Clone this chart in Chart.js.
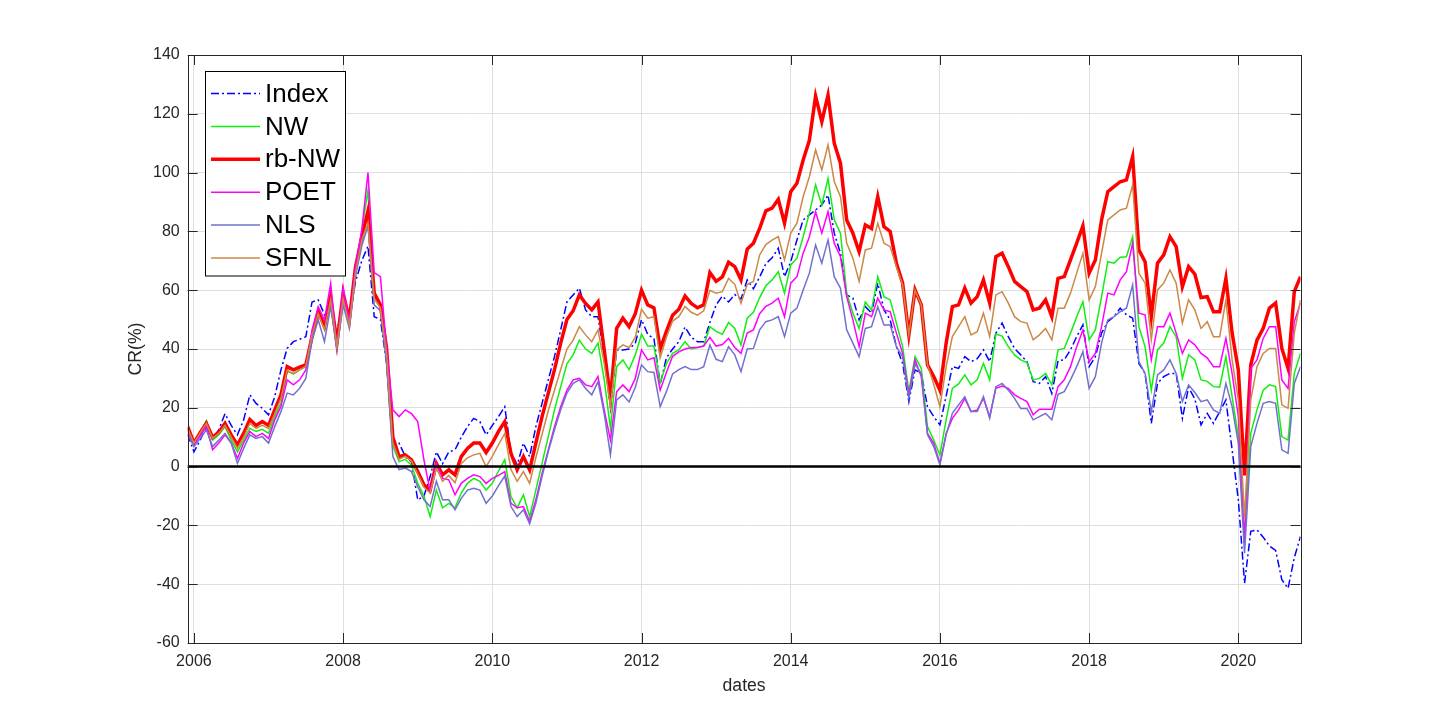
<!DOCTYPE html>
<html>
<head>
<meta charset="utf-8">
<title>CR(%)</title>
<script src="https://cdn.jsdelivr.net/npm/chart.js@4.4.1/dist/chart.umd.min.js"></script>
<style>
  html, body { margin: 0; padding: 0; background: #fff; }
  #wrap { width: 1438px; height: 723px; }
</style>
</head>
<body>
<div id="wrap"><canvas id="cr" width="1438" height="723"></canvas></div>
<script>
// monthly observations, Dec 2005 .. Nov 2020
const startYear = 2005 + 11 / 12;

const indexVals = [
  11, 5, 9, 13.6, 9.6, 12.5, 18, 14, 10.8, 15.9, 24.4, 21.5, 19.8, 17.6, 23.8, 32.9, 40.2, 42.5, 43.3, 44.2, 56, 56.7, 51.6, 54.4,
  45, 58, 50, 63, 70, 75, 51, 50, 35, 9, 8, 3.4, 1.7, -11.3, -10, -3.4, 5, 1, 5, 5.7, 10, 13.6, 16.4, 15.3,
  10.8, 14, 17, 20.4, 5, 0.6, 8, 3.4, 13.6, 21.5, 29.5, 37.4, 46.5, 56, 58.4, 60.7, 53.3, 51, 51, 37.4, 20, 39.7, 39.7,
  40, 42, 50, 45, 43.5, 28, 37, 40, 42.5, 47.5, 44, 42.5, 42.5, 49, 55, 58, 56, 58.5, 57, 63.5, 60.5, 64.5, 69, 71,
  74.3, 64.6, 69.7, 77.1, 83.9, 85.6, 87.3, 89, 92.4, 79.4, 72.6, 58.4, 57.3, 49.9, 54.4, 52.2, 62.4, 53.3, 49.9, 40.8, 35.1, 22.1, 32.9,
  31.7, 20.4, 17, 14.2, 24, 34, 33.4, 37.4, 35.7, 36.7, 39.7, 35.7, 45.4, 48.8, 44.2, 40.2, 38, 35.7, 28.9, 28.3, 30.6, 24.9, 36,
  36.3, 39.7, 44.2, 48.2, 34, 37.4, 45.4, 49.3, 51, 53.9, 51.6, 50.5, 35.1, 31.7, 14.7, 28.3, 30.6, 31.7, 31.7, 16.4, 27, 23, 14.2,
  18.1, 14.7, 18.7, 22.7, 5.7, -11.3, -39.7, -22, -21.5, -24, -27, -28.5, -38.5, -41.4, -31, -23.8
];

const nwVals = [
  13, 8, 11.5, 15.6, 9, 10.8, 13.6, 9, 5, 9, 13, 12, 12.7, 11.3, 17, 21.5, 32.3, 31.7, 32.9, 34, 44.8, 53.3, 48.8, 59,
  42, 59, 50, 68, 80, 94, 58, 55, 37, 7, 1.7, 2.5, 0.5, -5.7, -10, -17, -8, -14, -12.5, -14, -9, -5.7, -4, -5,
  -8, -5.7, -1.5, 2.3, -10.2, -14, -9.6, -17, -8, 1.1, 10.2, 19.3, 27.2, 35, 38, 43, 40, 38.5, 42, 29.5, 13, 34, 36.3,
  33, 38, 45, 41, 41, 28.5, 35, 38.5, 39.7, 42.5, 40, 40.5, 41, 47.6, 46, 45, 49, 47, 41.4, 50.5, 52.5, 57.5, 61.5, 63.5,
  66.3, 59, 68.6, 70.9, 78.2, 86.2, 95.8, 89, 98, 83.9, 79.4, 59, 52.2, 47, 56, 53.3, 64.6, 57.8, 56.7, 48.8, 40.8, 25.5, 37.4,
  33.4, 13.6, 9, 4, 15.9, 26.6, 28.1, 31.2, 27.8, 29.5, 35.1, 29.5, 45.1, 44.4, 40.8, 38, 36.3, 35.4, 29.5, 30, 31.7, 27.8, 39.7,
  40.2, 45.4, 51, 56.1, 43.1, 46.5, 57.8, 69.7, 69.2, 71.2, 71.4, 78.2, 47.6, 40.8, 26, 39.7, 42, 47.6, 44.2, 30, 38, 36.3, 29.5,
  29, 27.2, 27, 37.4, 23.8, 10.2, -24.4, 11.3, 19.3, 26, 27.8, 27.2, 10.2, 9, 31.7, 38.5
];

const rbNwVals = [
  13.6, 8, 11.5, 14.7, 10, 11.6, 14.7, 10.8, 7.4, 11.3, 16, 14, 15.3, 14, 19.3, 24.4, 34, 32.9, 33.8, 34.6, 44.2, 52.7, 47.6, 57.8,
  42, 59, 50, 68, 78, 87, 59, 55, 40, 10, 3.4, 4, 2.3, -1.7, -6.2, -8, 1.1, -2.8, -1.1, -2.8, 3.4, 6.2, 8, 8,
  4.8, 8, 12, 15.3, 4.5, -1.1, 3.4, -1.1, 8, 17, 25, 33, 42, 50, 53, 58.4, 55.5, 53.3, 56, 39.7, 23.2, 47, 50.5,
  47.6, 52, 60, 55, 54, 40, 46, 51.5, 53.5, 58, 55.5, 54, 55, 66, 63, 64.5, 69.5, 68, 63.5, 74, 76, 81, 87, 87.9,
  90.9, 82.8, 93.5, 96.4, 104.3, 111, 126, 117.3, 126.4, 110, 103.2, 83.9, 79.4, 73.1, 82.2, 81, 91.8, 81.6, 80, 69.2, 62.4, 44.8, 60.1,
  55, 34.6, 30.6, 26, 42, 54.4, 55, 60.7, 55.6, 57.8, 63.5, 55.6, 71.4, 72.6, 68, 63, 61.2, 59.5, 53.3, 53.9, 56.7, 51, 64,
  64.6, 70.3, 76, 81.9, 65.8, 70.3, 83.9, 93.5, 95.2, 96.9, 97.5, 105.4, 73.7, 69.7, 51, 69.2, 72, 78.2, 74.8, 61.2, 68, 65.5, 57.5,
  57.8, 52.7, 52.7, 64, 45.4, 32.9, -3, 34.6, 43, 47, 53.9, 55.6, 40.2, 33.4, 59.5, 64.6
];

const poetVals = [
  12, 7.4, 10.5, 13.6, 5.7, 8, 10.8, 8, 2.8, 8, 12, 10.2, 11.3, 9.6, 15.9, 20.4, 29.5, 27.8, 29.5, 32.9, 46.5, 54.4, 49.9, 62.4,
  40, 61, 49, 68, 80.5, 100, 66, 64.6, 39.7, 19.3, 17, 19.3, 18, 15.3, 2.3, -8.5, 1, -4, -4.5, -9.6, -5.7, -4, -2.8, -3.4,
  -5.7, -4, -3, -1.7, -12.5, -14, -13.6, -18.7, -11.3, -2.3, 5.7, 13.6, 20.4, 26, 29.5, 30, 27.8, 27.2, 30.6, 19.3, 9, 25.5, 27.8,
  25.5, 30, 39.7, 36.3, 37, 26, 32, 37.5, 39, 40, 40.5, 40.5, 41, 44, 41, 41.5, 43.6, 40.5, 38.5, 45.4, 46.5, 52, 54.5, 55.6,
  57.3, 51, 62.4, 64.6, 72.6, 78.2, 86.7, 79.4, 86.7, 76, 71.4, 57.8, 49.9, 40.8, 52.2, 51, 57.3, 53.3, 52.7, 45.4, 38.5, 24.4, 36.3,
  30.6, 11.3, 7.9, 1.1, 11.3, 16.4, 19.3, 23.2, 18.7, 19.3, 23.2, 17, 26.6, 27.4, 26.6, 24.4, 23.2, 22.1, 17.6, 19.5, 19.5, 19.5, 27.2,
  29.5, 34, 40.8, 46.5, 35.7, 38.5, 47.6, 59, 58.4, 63.5, 66.3, 76, 52.2, 51.6, 36.3, 47.6, 47.6, 52.2, 45.4, 38.5, 43.1, 41.4, 38.5,
  37, 34, 34, 43.6, 31.7, 17, -26, 33.4, 36.3, 43.6, 47.6, 47.6, 29.5, 26.6, 49.3, 55.6
];

const nlsVals = [
  11, 6.8, 9.5, 12.5, 6.8, 9, 11.3, 8, 1.1, 6.2, 10.8, 9.6, 10.2, 8, 13.6, 18.7, 25, 24.4, 26.6, 30, 43, 49.9, 42.5, 54.4,
  40, 55, 47, 65, 75, 82, 55, 53, 35, 3.4, -1, -0.5, -1.7, -6.8, -11.3, -13.6, -5, -11.3, -11.3, -14.7, -10.8, -8, -7.4, -8,
  -12.5, -10, -6.5, -3.2, -13.6, -17, -14.7, -19.5, -12.5, -3.4, 5.1, 12.5, 19.3, 25, 28.3, 29.5, 26.6, 24.4, 28.9, 18, 4, 22.7, 24.4,
  22, 27, 34.6, 32.3, 32, 20.4, 25.5, 31.5, 33, 34, 33, 33, 34, 41.4, 36.5, 35.7, 40.8, 38, 32.3, 40, 40.2, 46.5, 49.3, 49.9,
  51, 44.2, 52.2, 53.9, 60.1, 65.8, 75.4, 69.2, 77.1, 64.6, 60.7, 46.5, 42, 37.4, 47, 47.6, 54.4, 48.2, 48.2, 40.8, 37.4, 23.2, 34.9,
  31.7, 10.8, 6.8, 0.6, 10.8, 18.1, 21, 23.8, 18.7, 18.7, 23.8, 16.4, 27.2, 28.3, 26, 23.2, 19.8, 19.8, 15.9, 17, 18.1, 15.9, 24.6,
  25.5, 29.5, 34, 39.1, 26.6, 30.6, 42, 49.9, 51, 52.7, 53.9, 61.8, 35.7, 31.7, 18.7, 31.2, 32.9, 36.3, 31.7, 22.1, 27.8, 25.2, 22.1,
  22.7, 19.3, 18.1, 28.3, 20.4, 7.9, -29.5, 6.8, 14.7, 21.5, 22.1, 21.5, 5.7, 4.5, 28.3, 34
];

const sfnlVals = [
  13, 8, 11.5, 14.7, 9.6, 11.3, 14, 10, 6.2, 10, 14.7, 13, 14, 13, 18, 23.2, 32.9, 31.5, 32.9, 34.2, 44.8, 52, 46.5, 56.7,
  41, 57, 48, 66, 77, 83, 57, 54, 38, 8, 2.5, 3.5, 2, -2.5, -7, -9, -0.5, -5, -3, -5.5, 1, 3, 4, 4.5,
  0, 3.5, 7.5, 11.3, -1, -5, -1.7, -5.7, 3, 11, 19, 26, 33, 40, 43, 47.6, 44.8, 42.5, 46.5, 35, 20.4, 39.7, 41.4,
  40.5, 44, 53.5, 50.5, 51, 37, 44, 49.5, 51, 54.5, 52.5, 51.5, 53, 60, 59, 59.5, 64, 62, 55.5, 62, 63, 72, 75.5, 77,
  78.2, 70.3, 79.4, 82.8, 91.8, 98.6, 107.7, 100.9, 109.4, 97, 91.8, 76, 70.9, 63, 73.7, 74.3, 82.8, 76, 74.8, 68, 61.8, 44.8, 60,
  55, 34.6, 28, 20.4, 34, 44.2, 47.6, 51, 44.8, 45.9, 52.2, 44.2, 58.4, 59.5, 55.6, 51, 49.3, 48.8, 43.1, 44.8, 47, 43.1, 53.9,
  53.9, 59, 65.8, 72.6, 56.7, 61.2, 72.6, 83.9, 85.6, 87.3, 87.9, 95.8, 65.8, 62.4, 43.1, 60.1, 62.4, 66.9, 62.4, 48.8, 56.7, 53.3, 47,
  49.3, 44.2, 44.2, 56.7, 36.3, 22.7, -17.6, 22.7, 34, 38.5, 40.2, 40.2, 21, 19.8, 45.4, 56.7
];

const xTicks = [2006, 2008, 2010, 2012, 2014, 2016, 2018, 2020];
const yTicks = [-60, -40, -20, 0, 20, 40, 60, 80, 100, 120, 140];

const dates = indexVals.map((v, i) => startYear + i / 12);

const FONT = "'Liberation Sans', Arial, Helvetica, sans-serif";
const AXIS_COLOR = '#262626';

// zero line, box, inward ticks and the legend box, drawn like MATLAB does
const matlabFrame = {
    id: 'matlabFrame',
    afterDatasetsDraw(chart) {
        const ctx = chart.ctx;
        const a = chart.chartArea;
        const xs = chart.scales.x, ys = chart.scales.y;

        ctx.save();
        // y = 0 reference line
        const y0 = ys.getPixelForValue(0);
        ctx.strokeStyle = '#000';
        ctx.lineWidth = 2.5;
        ctx.beginPath();
        ctx.moveTo(a.left, y0);
        ctx.lineTo(a.right, y0);
        ctx.stroke();

        // box
        ctx.strokeStyle = AXIS_COLOR;
        ctx.lineWidth = 1;
        ctx.strokeRect(Math.round(a.left) + 0.5, Math.round(a.top) + 0.5,
            Math.round(a.right - a.left), Math.round(a.bottom - a.top));

        // inward ticks
        const tl = 10;
        ctx.beginPath();
        xTicks.forEach(function (t) {
            const px = Math.round(xs.getPixelForValue(t)) + 0.5;
            ctx.moveTo(px, a.bottom); ctx.lineTo(px, a.bottom - tl);
            ctx.moveTo(px, a.top); ctx.lineTo(px, a.top + tl);
        });
        yTicks.forEach(function (t) {
            const py = Math.round(ys.getPixelForValue(t)) + 0.5;
            ctx.moveTo(a.left, py); ctx.lineTo(a.left + tl, py);
            ctx.moveTo(a.right, py); ctx.lineTo(a.right - tl, py);
        });
        ctx.stroke();

        // legend
        const lx = 205.5, ly = 71.5, lw = 140, lh = 204.5;
        ctx.fillStyle = '#fff';
        ctx.fillRect(lx, ly, lw, lh);
        ctx.strokeStyle = '#000';
        ctx.lineWidth = 1;
        ctx.strokeRect(lx, ly, lw, lh);
        ctx.font = '26px ' + FONT;
        ctx.textBaseline = 'middle';
        ctx.textAlign = 'left';
        chart.data.datasets.forEach(function (ds, i) {
            const ry = 93.5 + i * 32.9;
            ctx.strokeStyle = ds.borderColor;
            ctx.lineWidth = ds.borderWidth;
            ctx.setLineDash(ds.borderDash || []);
            ctx.beginPath();
            ctx.moveTo(211, ry);
            ctx.lineTo(260, ry);
            ctx.stroke();
            ctx.setLineDash([]);
            ctx.fillStyle = '#000';
            ctx.fillText(ds.label, 265, ry + 1);
        });
        ctx.restore();
    }
};

function series(label, data, color, width, order, dash) {
    return {
        label: label,
        data: data,
        borderColor: color,
        backgroundColor: color,
        borderWidth: width,
        borderDash: dash || [],
        pointRadius: 0,
        tension: 0,
        fill: false,
        order: order
    };
}

new Chart(document.getElementById('cr'), {
    type: 'line',
    data: {
        labels: dates,
        datasets: [
            series('Index', indexVals, '#0000ff', 1.5, 6, [8, 3, 2, 3]),
            series('NW', nwVals, '#11ee11', 1.5, 5),
            series('rb-NW', rbNwVals, '#ff0000', 3.5, 4),
            series('POET', poetVals, '#ff00ff', 1.5, 3),
            series('NLS', nlsVals, '#7070cf', 1.5, 2),
            series('SFNL', sfnlVals, '#cc8844', 1.5, 1)
        ]
    },
    options: {
        responsive: false,
        animation: false,
        devicePixelRatio: 1,
        layout: { padding: { left: 0, right: 137.5, top: 55, bottom: 0 } },
        plugins: {
            legend: { display: false },
            tooltip: { enabled: false }
        },
        scales: {
            x: {
                type: 'linear',
                min: startYear,
                max: startYear + (indexVals.length - 1) / 12,
                afterBuildTicks: function (scale) {
                    scale.ticks = xTicks.map(function (v) { return { value: v }; });
                },
                afterFit: function (scale) { scale.height = 80; },
                ticks: {
                    autoSkip: false,
                    maxRotation: 0,
                    padding: 9,
                    color: AXIS_COLOR,
                    font: { family: FONT, size: 16 },
                    callback: function (v) { return String(v); }
                },
                grid: { color: '#dfdfdf', drawTicks: false },
                border: { display: false },
                title: {
                    display: true,
                    text: 'dates',
                    color: AXIS_COLOR,
                    font: { family: FONT, size: 17.6 },
                    padding: { top: 0, bottom: 26 }
                }
            },
            y: {
                min: -60,
                max: 140,
                afterBuildTicks: function (scale) {
                    scale.ticks = yTicks.map(function (v) { return { value: v }; });
                },
                afterFit: function (scale) { scale.width = 187.7; },
                ticks: {
                    padding: 8,
                    color: AXIS_COLOR,
                    font: { family: FONT, size: 16 }
                },
                grid: { color: '#dfdfdf', drawTicks: false },
                border: { display: false },
                title: {
                    display: true,
                    text: 'CR(%)',
                    color: AXIS_COLOR,
                    font: { family: FONT, size: 17.6 },
                    padding: { top: 126, bottom: 0 }
                }
            }
        }
    },
    plugins: [matlabFrame]
});
</script>
</body>
</html>
